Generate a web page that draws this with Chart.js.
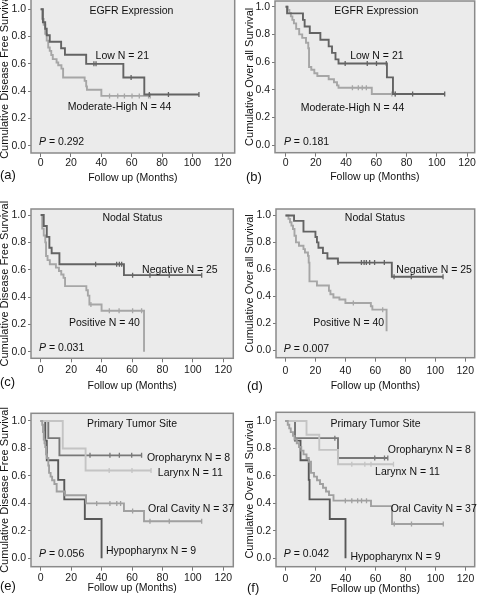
<!DOCTYPE html>
<html><head><meta charset="utf-8">
<script src="https://cdn.jsdelivr.net/npm/chart.js@4.4.1/dist/chart.umd.min.js"></script>
<style>
html,body{margin:0;padding:0;background:#fff;width:480px;height:597px;overflow:hidden;position:relative;}
canvas{position:absolute;}
</style></head><body>
<canvas id="pa"></canvas><canvas id="pb"></canvas>
<canvas id="pc"></canvas><canvas id="pd"></canvas>
<canvas id="pe"></canvas><canvas id="pf"></canvas>
<script>
// ---------- tick labels ----------
const xTicks = [0, 20, 40, 60, 80, 100, 120];
const yTicks = [0, 0.2, 0.4, 0.6, 0.8, 1.0];
const yTickLabels = ['0.0', '0.2', '0.4', '0.6', '0.8', '1.0'];

// ---------- categories ----------
const egfrGroups = ['Low', 'Moderate-High'];
const egfrN = [21, 44];
const nodalGroups = ['Negative', 'Positive'];
const nodalN = [25, 40];
const siteGroups = ['Oropharynx', 'Larynx', 'Oral Cavity', 'Hypopharynx'];
const siteN = [8, 11, 37, 9];
const panelTitles = ['EGFR Expression', 'EGFR Expression', 'Nodal Status', 'Nodal Status', 'Primary Tumor Site', 'Primary Tumor Site'];
const pValues = ['0.292', '0.181', '0.031', '0.007', '0.056', '0.042'];
const panelLetters = ['(a)', '(b)', '(c)', '(d)', '(e)', '(f)'];
const dfsTitle = 'Cumulative Disease Free Survival';
const osTitle = 'Cumulative Over all Survival';
const xTitle = 'Follow up (Months)';

// ---------- (a) EGFR, disease free survival ----------
const aLowT = [0, 1.5, 3, 4, 6, 13.5, 16, 30, 54.5, 68.3, 104.3];
const aLowS = [1, 0.905, 0.857, 0.81, 0.762, 0.714, 0.667, 0.60, 0.50, 0.375, 0.375];
const aLowCens = [35.1, 36.5, 59.6, 71.6, 84.2, 104.3];
const aModT = [0, 1, 2, 3, 4, 5, 6, 7, 8, 10.5, 11.6, 13.7, 14.8, 29, 30, 30.5, 40, 72.2];
const aModS = [1, 0.93, 0.886, 0.82, 0.77, 0.72, 0.695, 0.665, 0.635, 0.61, 0.59, 0.565, 0.50, 0.475, 0.435, 0.41, 0.365, 0.365];
const aModCens = [45.4, 50.8, 55.2, 60.2, 65, 71.1, 72.2];

// ---------- (b) EGFR, overall survival ----------
const bLowT = [0, 1, 11.5, 12.6, 16, 23, 28.5, 30.7, 33, 35, 67, 71, 105.2];
const bLowS = [1, 0.952, 0.905, 0.857, 0.81, 0.762, 0.714, 0.667, 0.62, 0.59, 0.49, 0.37, 0.37];
const bLowCens = [39.4, 54, 60.1, 66.6, 72.5, 84, 105.2];
const bModT = [0, 1.5, 2.5, 3.5, 4.5, 5.5, 7, 9, 11, 13.5, 15, 15.5, 17, 19, 21, 28.5, 32, 34, 35, 57, 72.5];
const bModS = [1, 0.977, 0.955, 0.93, 0.905, 0.88, 0.84, 0.80, 0.775, 0.74, 0.70, 0.565, 0.545, 0.52, 0.50, 0.477, 0.455, 0.432, 0.415, 0.37, 0.37];
const bModCens = [44.2, 48.1, 50.7, 53.4, 70.3, 72.5];

// ---------- (c) Nodal status, disease free survival ----------
const cNegT = [0, 2, 4, 5.7, 7.2, 12.3, 54.7, 105.8];
const cNegS = [1, 0.92, 0.84, 0.76, 0.72, 0.64, 0.56, 0.56];
const cNegCens = [36.1, 49.9, 51.7, 53.2, 60.4, 71.8, 84.5, 105.8];
const cPosT = [0, 1, 2, 3, 3.5, 4.5, 6, 10, 12, 13.5, 15, 16, 30, 31, 32, 40, 67.9];
const cPosS = [1, 0.9, 0.85, 0.80, 0.70, 0.67, 0.64, 0.615, 0.59, 0.565, 0.54, 0.48, 0.45, 0.41, 0.345, 0.30, 0];
const cPosCens = [33, 45.1, 51.5, 60.4, 66.3];

// ---------- (d) Nodal status, overall survival ----------
const dNegT = [0, 5.7, 12, 20, 21, 22, 25, 28, 35, 71, 105.2];
const dNegS = [1, 0.96, 0.88, 0.84, 0.80, 0.76, 0.72, 0.68, 0.65, 0.545, 0.545];
const dNegCens = [35.1, 50.7, 52.5, 54, 56.2, 59.5, 66, 72.5, 84, 105.2];
const dPosT = [0, 2, 3, 4, 5, 6, 7, 9, 12, 13, 15, 15.5, 16, 21, 29, 30, 32, 36, 40, 57, 58, 67.5];
const dPosS = [1, 0.975, 0.95, 0.925, 0.9, 0.85, 0.80, 0.775, 0.75, 0.725, 0.70, 0.65, 0.51, 0.48, 0.44, 0.415, 0.39, 0.375, 0.35, 0.325, 0.30, 0.14];
const dPosCens = [45.3, 64.9];

// ---------- (e) Primary site, disease free survival ----------
const eOroT = [0, 5, 12.3, 66.3];
const eOroS = [1, 0.875, 0.75, 0.75];
const eOroCens = [32.4, 45.5, 51.7, 59.8, 66.3];
const eLarT = [0, 14.5, 29.5, 72.5];
const eLarS = [1, 0.8, 0.64, 0.64];
const eLarCens = [45, 60, 72.5];
const eOralT = [0, 1, 1.5, 2, 2.5, 3, 3.5, 4, 5, 5.5, 6.5, 7.5, 9, 10.5, 16, 29.8, 54.7, 67.9, 105.8];
const eOralS = [1, 0.973, 0.919, 0.865, 0.838, 0.811, 0.757, 0.73, 0.676, 0.622, 0.595, 0.568, 0.541, 0.486, 0.459, 0.40, 0.345, 0.27, 0.27];
const eOralCens = [36.8, 45.5, 50, 52.5, 60.4, 71.8, 84.5, 105.8];
const eHypoT = [0, 3, 4, 11.5, 15.5, 29, 40];
const eHypoS = [1, 0.857, 0.714, 0.571, 0.429, 0.286, 0];
const eHypoCens = [];

// ---------- (f) Primary site, overall survival ----------
const fOroT = [0, 6.3, 35, 68.2];
const fOroS = [1, 0.875, 0.73, 0.73];
const fOroCens = [32.9, 59.5, 66, 68.2];
const fLarT = [0, 14, 22.5, 35, 72];
const fLarS = [1, 0.9, 0.79, 0.685, 0.685];
const fLarCens = [44.2, 52.9, 57, 72];
const fOralT = [0, 1.5, 2.5, 3.5, 5, 6, 7.5, 9, 10.5, 12, 14, 15.5, 17, 19, 21, 23, 25, 27, 29, 32, 57, 71, 105.2];
const fOralS = [1, 0.973, 0.946, 0.919, 0.892, 0.865, 0.838, 0.811, 0.784, 0.757, 0.73, 0.703, 0.622, 0.595, 0.568, 0.541, 0.514, 0.487, 0.46, 0.42, 0.38, 0.25, 0.25];
const fOralCens = [39.9, 44.2, 48.1, 50.7, 54, 72.5, 84, 105.2];
const fHypoT = [0, 6.3, 10, 15.5, 16, 29.5, 40];
const fHypoS = [1, 0.857, 0.714, 0.571, 0.429, 0.286, 0];
const fHypoCens = [];

// ---------- styles ----------
const FONT = 'Liberation Sans, Arial, Helvetica, sans-serif';
const DARK = '#636363', LIGHT = '#a6a6a6';
const ORO = '#787878', LAR = '#c4c4c4', ORAL = '#a0a0a0', HYPO = '#585858';

// ---------- panel layouts (page pixel geometry) ----------
const panels = [
  { id: 'pa', idx: 0, yTitle: dfsTitle,
    canvas: { x: 0, y: -12, w: 240, h: 207 }, frame: { l: 31, t: -1, r: 236, b: 153 },
    px: { x0: 40.7, x120: 224, y1: 9.3, y0: 145.7 }, yTitleCenter: 4.5, xTitleY: 178, xTickPad: 0, letter: { x: 0, y: 175 },
    series: [
      { t: aLowT, s: aLowS, c: aLowCens, color: DARK },
      { t: aModT, s: aModS, c: aModCens, color: LIGHT } ],
    labels: [ { text: egfrGroups[0] + ' N = ' + egfrN[0], x: 36.2, y: 0.658 },
              { text: egfrGroups[1] + ' N = ' + egfrN[1], x: 17.9, y: 0.284 } ],
    titlePos: { x: 59.8, y: 0.988 }, pPos: { x: -1.1, y: 0.027 } },
  { id: 'pb', idx: 1, yTitle: osTitle,
    canvas: { x: 240, y: -12, w: 240, h: 207 }, frame: { l: 275, t: 1, r: 477, b: 152.7 },
    px: { x0: 285.7, x120: 469.3, y1: 6.7, y0: 145.3 }, yTitleCenter: 9.5, xTitleY: 177, xTickPad: 0, letter: { x: 246, y: 177 },
    series: [
      { t: bLowT, s: bLowS, c: bLowCens, color: DARK },
      { t: bModT, s: bModS, c: bModCens, color: LIGHT } ],
    labels: [ { text: egfrGroups[0] + ' N = ' + egfrN[0], x: 42.7, y: 0.644 },
              { text: egfrGroups[1] + ' N = ' + egfrN[1], x: 10, y: 0.269 } ],
    titlePos: { x: 60, y: 0.969 }, pPos: { x: -1.1, y: 0.024 } },
  { id: 'pc', idx: 2, yTitle: dfsTitle,
    canvas: { x: 0, y: 195, w: 240, h: 200 }, frame: { l: 31, t: 209, r: 233.3, b: 358.3 },
    px: { x0: 40.7, x120: 223.3, y1: 215, y0: 351.7 }, yTitleCenter: 4.5, xTitleY: 386, xTickPad: 2, letter: { x: 0, y: 382.5 },
    series: [
      { t: cNegT, s: cNegS, c: cNegCens, color: DARK },
      { t: cPosT, s: cPosS, c: cPosCens, color: LIGHT } ],
    labels: [ { text: nodalGroups[0] + ' N = ' + nodalN[0], x: 66.6, y: 0.60 },
              { text: nodalGroups[1] + ' N = ' + nodalN[1], x: 18.6, y: 0.21 } ],
    titlePos: { x: 60.3, y: 0.978 }, pPos: { x: -1.1, y: 0.027 } },
  { id: 'pd', idx: 3, yTitle: osTitle,
    canvas: { x: 240, y: 195, w: 240, h: 200 }, frame: { l: 276, t: 209, r: 479, b: 357.7 },
    px: { x0: 285.7, x120: 469.3, y1: 215.5, y0: 350 }, yTitleCenter: 10, xTitleY: 386, xTickPad: 3, letter: { x: 247, y: 386.5 },
    series: [
      { t: dNegT, s: dNegS, c: dNegCens, color: DARK },
      { t: dPosT, s: dPosS, c: dPosCens, color: LIGHT } ],
    labels: [ { text: nodalGroups[0] + ' N = ' + nodalN[0], x: 74, y: 0.593 },
              { text: nodalGroups[1] + ' N = ' + nodalN[1], x: 18.5, y: 0.2 } ],
    titlePos: { x: 59.7, y: 0.978 }, pPos: { x: -1.1, y: 0.007 } },
  { id: 'pe', idx: 4, yTitle: dfsTitle,
    canvas: { x: 0, y: 395, w: 240, h: 202 }, frame: { l: 31, t: 413.3, r: 233.3, b: 566.7 },
    px: { x0: 40.7, x120: 223.3, y1: 421, y0: 558.3 }, yTitleCenter: 4.5, xTitleY: 588, xTickPad: 1, letter: { x: 0, y: 586 },
    series: [
      { t: eOralT, s: eOralS, c: eOralCens, color: ORAL },
      { t: eLarT, s: eLarS, c: eLarCens, color: LAR },
      { t: eOroT, s: eOroS, c: eOroCens, color: ORO },
      { t: eHypoT, s: eHypoS, c: eHypoCens, color: HYPO } ],
    labels: [ { text: siteGroups[0] + ' N = ' + siteN[0], x: 69.8, y: 0.73 },
              { text: siteGroups[1] + ' N = ' + siteN[1], x: 77, y: 0.62 },
              { text: siteGroups[2] + ' N = ' + siteN[2], x: 70.5, y: 0.36 },
              { text: siteGroups[3] + ' N = ' + siteN[3], x: 42.9, y: 0.053 } ],
    titlePos: { x: 60, y: 0.978 }, pPos: { x: -1.1, y: 0.031 } },
  { id: 'pf', idx: 5, yTitle: osTitle,
    canvas: { x: 240, y: 395, w: 240, h: 202 }, frame: { l: 276, t: 412.3, r: 478.7, b: 566.7 },
    px: { x0: 285.7, x120: 469.3, y1: 421, y0: 558.3 }, yTitleCenter: 10, xTitleY: 589, xTickPad: 1.7, letter: { x: 247, y: 588.5 },
    series: [
      { t: fOralT, s: fOralS, c: fOralCens, color: ORAL },
      { t: fLarT, s: fLarS, c: fLarCens, color: LAR },
      { t: fOroT, s: fOroS, c: fOroCens, color: ORO },
      { t: fHypoT, s: fHypoS, c: fHypoCens, color: HYPO } ],
    labels: [ { text: siteGroups[0] + ' N = ' + siteN[0], x: 68.2, y: 0.789 },
              { text: siteGroups[1] + ' N = ' + siteN[1], x: 59.7, y: 0.629 },
              { text: siteGroups[2] + ' N = ' + siteN[2], x: 70.1, y: 0.359 },
              { text: siteGroups[3] + ' N = ' + siteN[3], x: 43.3, y: 0.009 } ],
    titlePos: { x: 60, y: 0.978 }, pPos: { x: -1.1, y: 0.031 } }
];

// ---------- helpers ----------
function stepPoints(T, S) { return T.map((t, i) => ({ x: t, y: S[i] })); }
function survAt(T, S, t) { let v = S[0]; for (let i = 0; i < T.length; i++) { if (T[i] <= t) v = S[i]; } return v; }
function censorPoints(T, S, C) { return C.map(t => ({ x: t, y: survAt(T, S, t) })); }

function makePanel(p) {
  const cv = document.getElementById(p.id);
  cv.width = p.canvas.w; cv.height = p.canvas.h;
  cv.style.left = p.canvas.x + 'px'; cv.style.top = p.canvas.y + 'px';
  cv.style.width = p.canvas.w + 'px'; cv.style.height = p.canvas.h + 'px';

  const ppm = (p.px.x120 - p.px.x0) / 120;
  const ppv = p.px.y0 - p.px.y1;
  const xmin = -(p.px.x0 - p.frame.l) / ppm, xmax = 120 + (p.frame.r - p.px.x120) / ppm;
  const ymax = 1 + (p.px.y1 - p.frame.t) / ppv, ymin = -(p.frame.b - p.px.y0) / ppv;

  const datasets = [];
  p.series.forEach(s => {
    datasets.push({ type: 'line', data: stepPoints(s.t, s.s), stepped: 'before', borderColor: s.color,
      borderWidth: 1.9, pointRadius: 0, fill: false, tension: 0 });
    if (s.c.length) datasets.push({ type: 'scatter', data: censorPoints(s.t, s.s, s.c), pointStyle: 'line',
      rotation: 90, pointRadius: 2.5, borderColor: s.color, backgroundColor: s.color, borderWidth: 1.3 });
  });

  const tickFont = { family: FONT, size: 10.5 };
  const decor = {
    id: 'kmDecor' + p.idx,
    beforeDraw(chart) {
      const { ctx, chartArea: a } = chart;
      ctx.save();
      ctx.fillStyle = '#ebebeb';
      ctx.fillRect(a.left, a.top, a.right - a.left, a.bottom - a.top);
      ctx.restore();
    },
    afterDraw(chart) {
      const { ctx, chartArea: a, scales } = chart;
      ctx.save();
      ctx.strokeStyle = '#8a8a8a'; ctx.lineWidth = 1.5;
      ctx.strokeRect(a.left, a.top, a.right - a.left, a.bottom - a.top);
      const X = v => scales.x.getPixelForValue(v), Y = v => scales.y.getPixelForValue(v);
      ctx.fillStyle = '#111';
      ctx.textBaseline = 'middle';
      ctx.font = '10.5px ' + FONT;
      ctx.textAlign = 'center';
      ctx.fillText(panelTitles[p.idx], X(p.titlePos.x), Y(p.titlePos.y));
      ctx.textAlign = 'left';
      p.labels.forEach(l => ctx.fillText(l.text, X(l.x), Y(l.y)));
      // P value
      ctx.font = 'italic 10.5px ' + FONT;
      const px0 = X(p.pPos.x), py0 = Y(p.pPos.y);
      ctx.fillText('P', px0, py0);
      const w = ctx.measureText('P').width;
      ctx.font = '10.5px ' + FONT;
      ctx.fillText(' = ' + pValues[p.idx], px0 + w, py0);
      // panel letter
      ctx.font = '13px ' + FONT;
      ctx.fillText(panelLetters[p.idx], p.letter.x - p.canvas.x, p.letter.y - p.canvas.y);
      ctx.restore();
    }
  };

  new Chart(cv, {
    type: 'line',
    data: { datasets },
    options: {
      responsive: false, animation: false, devicePixelRatio: 1,
      layout: { padding: { left: 0, top: p.frame.t - p.canvas.y, right: p.canvas.x + p.canvas.w - p.frame.r, bottom: 0 } },
      plugins: { legend: { display: false }, tooltip: { enabled: false } },
      scales: {
        x: {
          type: 'linear', min: xmin, max: xmax,
          afterBuildTicks: sc => { sc.ticks = xTicks.map(v => ({ value: v })); },
          afterFit: sc => { sc.height = p.canvas.y + p.canvas.h - p.frame.b; sc.paddingLeft = 0; sc.paddingRight = 0; },
          ticks: { font: tickFont, color: '#1a1a1a', padding: p.xTickPad, maxRotation: 0, autoSkip: false,
                   callback: (v, i) => String(xTicks[i]) },
          grid: { drawOnChartArea: false, drawTicks: true, tickLength: 4, tickColor: '#777' },
          border: { display: false },
          title: { display: true, text: xTitle, font: { family: FONT, size: 10.5 }, color: '#111',
                   padding: { top: 0, bottom: (p.canvas.y + p.canvas.h - p.xTitleY) - 6.3 } }
        },
        y: {
          type: 'linear', min: ymin, max: ymax,
          afterBuildTicks: sc => { sc.ticks = yTicks.map(v => ({ value: v })); },
          afterFit: sc => { sc.width = p.frame.l - p.canvas.x; sc.paddingTop = 0; sc.paddingBottom = 0; },
          ticks: { font: tickFont, color: '#1a1a1a', padding: 2, autoSkip: false,
                   callback: (v, i) => yTickLabels[i] },
          grid: { drawOnChartArea: false, drawTicks: true, tickLength: 3, tickColor: '#777' },
          border: { display: false },
          title: { display: true, text: p.yTitle, font: { family: FONT, size: 11 }, color: '#111',
                   padding: { top: p.yTitleCenter - 6.6, bottom: 0 } }
        }
      }
    },
    plugins: [decor]
  });
}

panels.forEach(makePanel);
</script>
</body></html>
